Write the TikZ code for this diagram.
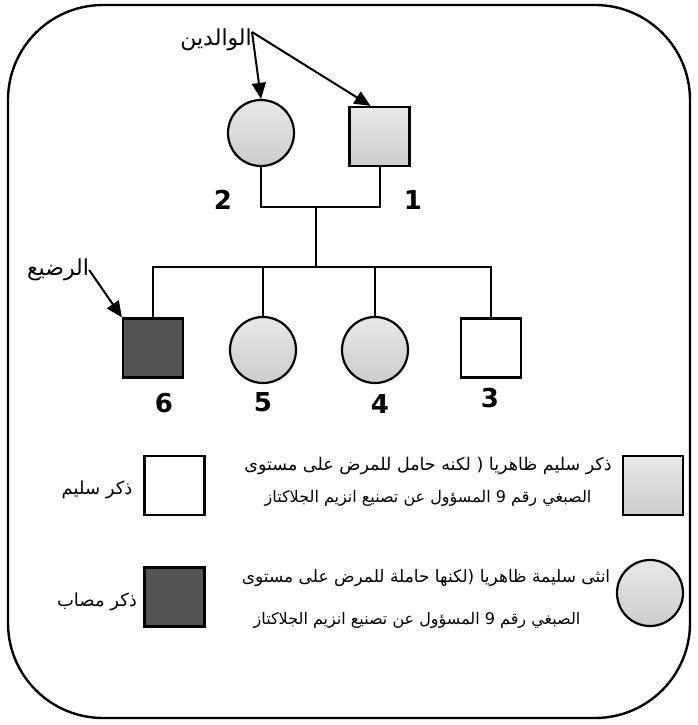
\documentclass[tikz,border=0pt]{standalone}
\usepackage{fontspec}
\usetikzlibrary{arrows.meta}
\newfontfamily\arabicfont[Script=Arabic]{DejaVu Sans}
\newfontfamily\numfont{DejaVu Sans}
\TeXXeTstate=1
\newcommand{\ar}[1]{\arabicfont\beginR #1\endR}

\begin{document}
\begin{tikzpicture}[x=1pt, y=-1pt,
    every node/.style={inner sep=0pt},
    male/.style={draw, line width=2.2pt, minimum width=60pt, minimum height=59pt},
    female/.style={draw, circle, line width=2.2pt, minimum size=66pt},
    carrier/.style={top color=gray!18, bottom color=gray!40},
    sick/.style={fill=black!67},
    num/.style={font=\numfont\bfseries\fontsize{26}{28}\selectfont},
    lbl/.style={font=\fontsize{22}{24}\selectfont},
    txt/.style={font=\fontsize{17.5}{19}\selectfont},
    txtb/.style={font=\fontsize{16}{18}\selectfont},
    tip/.style={-{Triangle[length=16pt,width=14pt]}, line width=2pt}]
    \useasboundingbox (0,0) rectangle (697,725);
    \draw [line width=2.4pt, rounded corners=95pt] (8,5) rectangle (690,718);

    \node [male, carrier] (m1) at (379.5,136.5) {};
    \node [female, carrier] (f2) at (261,133) {};
    \node [male, sick] (m6) at (153,348) {};
    \node [female, carrier] (f5) at (263,350) {};
    \node [female, carrier] (f4) at (375,350) {};
    \node [male, fill=white] (m3) at (491,348) {};

    \node [num] (n1) at (413,200) {1};
    \node [num] (n2) at (223,200) {2};
    \node [num] (n6) at (164,403) {6};
    \node [num] (n5) at (263,402) {5};
    \node [num] (n4) at (380,404) {4};
    \node [num] (n3) at (490,398) {3};

    \coordinate (mar) at (316,207);
    \coordinate (sib) at (316,267);
    \draw [line width=2pt] (f2.south) |- (mar) -| (m1.south);
    \draw [line width=2pt] (mar) -- (sib);
    \draw [line width=2pt] (m6.north) |- (sib) -| (m3.north);
    \draw [line width=2pt] (f5.north) -- (f5.north |- sib);
    \draw [line width=2pt] (f4.north) -- (f4.north |- sib);

    \node [lbl, anchor=east] (parents) at (252,40) {\ar{الوالدين}};
    \coordinate (p) at (252,32);
    \draw [tip] (p) -- (f2.north);
    \draw [tip] (p) -- ([xshift=-9pt]m1.north);

    \node [lbl] (baby) at (58,270) {\ar{الرضيع}};
    \draw [tip] (baby.east) -- (m6.north west);

    \node [male, fill=white] (lw) at (174.5,485.5) {};
    \node [male, sick] (ld) at (174.5,597) {};
    \node [male, carrier] (lc) at (653,485.5) {};
    \node [female, carrier] (lf) at (650,593) {};
    \node [lbl, font=\fontsize{18}{20}\selectfont] (tw) at (97,490) {\ar{ذكر سليم}};
    \node [lbl, font=\fontsize{18}{20}\selectfont] (td) at (97,602) {\ar{ذكر مصاب}};
    \node [txt] (tc1) at (428,466) {\ar{ذكر سليم ظاهريا ( لكنه حامل للمرض على مستوى}};
    \node [txtb] (tc2) at (428,498) {\ar{الصبغي رقم 9 المسؤول عن تصنيع انزيم الجلاكتاز}};
    \node [txt, font=\fontsize{17}{19}\selectfont] (tf1) at (426,578) {\ar{انثى سليمة ظاهريا (لكنها حاملة للمرض على مستوى}};
    \node [txtb] (tf2) at (417,620) {\ar{الصبغي رقم 9 المسؤول عن تصنيع انزيم الجلاكتاز}};
\end{tikzpicture}
\end{document}
